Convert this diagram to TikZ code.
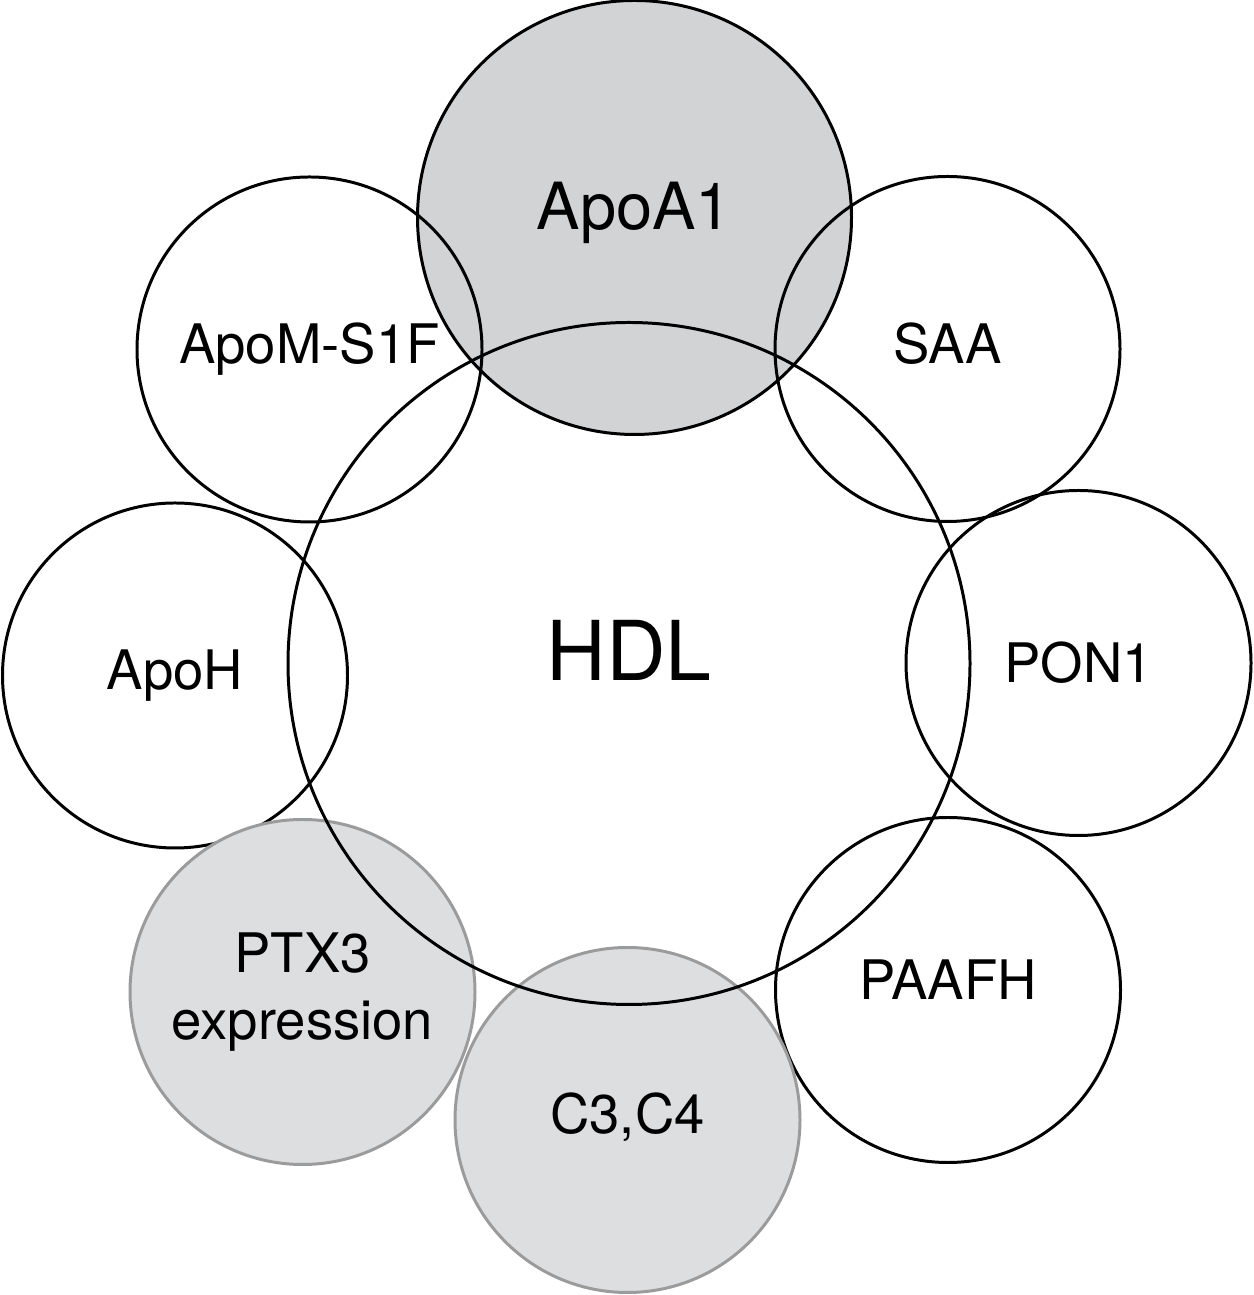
\documentclass[tikz,border=0pt]{standalone}
\usepackage{fontspec}
\setmainfont{TeX Gyre Heros}
\definecolor{apogray}{RGB}{209,211,213}
\definecolor{sidegray}{RGB}{221,222,224}
\definecolor{rimgray}{RGB}{155,155,155}
\tikzset{
	ring/.style={draw=black, line width=1.7pt, circle, inner sep=0pt, outer sep=0pt, minimum size=6.9cm, font=\fontsize{31}{38}\selectfont, align=center},
	shaded/.style={ring, draw=rimgray, fill=sidegray},
	core/.style={ring, minimum size=13.64cm, font=\fontsize{47}{50}\selectfont},
	top/.style={ring, fill=apogray, minimum size=8.68cm, font=\fontsize{37}{40}\selectfont}
}

\begin{document}
\begin{tikzpicture}
		%%%%% START %%%%%
		\useasboundingbox (0, 0) rectangle (25.06, 25.9);
		
		\node[top, text depth=13pt] (apoa) at (12.69, 21.55) {ApoA1};
		
		\node[ring] (apom) at (6.19, 18.91) {ApoM-S1F};
		\node[ring, text depth=6.8pt] (saa) at (18.95, 18.92) {SAA};
		\node[ring] (pon) at (21.57, 12.64) {PON1};
		\node[ring, text depth=11.4pt] (paafh) at (18.96, 6.1) {PAAFH};
		\node[ring] (apoh) at (3.5, 12.39) {ApoH};
		
		\node[shaded] (ptx) at (6.05, 6.06) {PTX3\\expression};
		\node[shaded, text depth=8pt] (comp) at (12.55, 3.5) {C3,C4};
		
		\node[core, text depth=15.4pt] (hdl) at (12.58, 12.63) {HDL};
		%%%%% END %%%%%
	\end{tikzpicture}
\end{document}
